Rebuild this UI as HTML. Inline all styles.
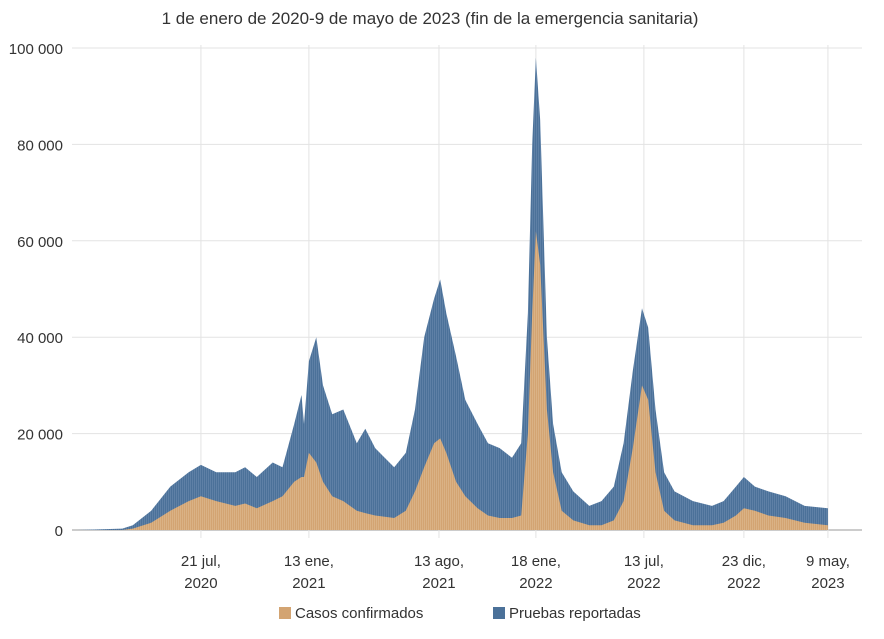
<!DOCTYPE html>
<html><head><meta charset="utf-8"><style>
body{margin:0;background:#fff;font-family:"Liberation Sans",sans-serif}
svg text{font-family:"Liberation Sans",sans-serif;fill:#333}
</style></head><body>
<svg id="c" width="884" height="634">
<defs>
<pattern id="sb" width="2" height="4" patternUnits="userSpaceOnUse"><rect width="2" height="4" fill="#4b7199"/><rect width="0.6" height="4" fill="#6a8bb0"/></pattern>
<pattern id="so" width="2" height="4" patternUnits="userSpaceOnUse"><rect width="2" height="4" fill="#d3a472"/><rect width="0.6" height="4" fill="#e0bb92"/></pattern>
</defs>
<text x="430" y="24" text-anchor="middle" font-size="17">1 de enero de 2020-9 de mayo de 2023 (fin de la emergencia sanitaria)</text>
<g id="grid"></g><g id="marks"></g><g id="axes"></g>
<g>
<rect x="279" y="607" width="12" height="12" fill="#d3a472"/>
<text x="295" y="618" font-size="15">Casos confirmados</text>
<rect x="493" y="607" width="12" height="12" fill="#4b7199"/>
<text x="509" y="618" font-size="15">Pruebas reportadas</text>
</g>
</svg>
<script>
const dates=["2020-01-01","2020-03-15","2020-04-01","2020-05-01","2020-06-01","2020-07-01","2020-07-21","2020-08-15","2020-09-15","2020-10-01","2020-10-20","2020-11-15","2020-12-01","2020-12-20","2021-01-01","2021-01-05","2021-01-13","2021-01-25","2021-02-05","2021-02-20","2021-03-10","2021-04-01","2021-04-15","2021-05-01","2021-06-01","2021-06-20","2021-07-05","2021-07-20","2021-08-05","2021-08-15","2021-08-25","2021-09-10","2021-09-25","2021-10-15","2021-11-01","2021-11-20","2021-12-10","2021-12-25","2022-01-05","2022-01-12","2022-01-18","2022-01-25","2022-02-05","2022-02-15","2022-03-01","2022-03-20","2022-04-15","2022-05-05","2022-05-25","2022-06-10","2022-06-25","2022-07-10","2022-07-20","2022-08-01","2022-08-15","2022-09-01","2022-10-01","2022-11-01","2022-11-20","2022-12-10","2022-12-23","2023-01-10","2023-02-01","2023-03-01","2023-04-01","2023-05-09"];
const pruebas=[0,300,1000,4000,9000,12000,13500,12000,12000,13000,11000,14000,13000,22000,28000,22000,35000,40000,30000,24000,25000,18000,21000,17000,13000,16000,25000,40000,48000,52000,45000,36000,27000,22000,18000,17000,15000,18000,45000,80000,98000,85000,40000,22000,12000,8000,5000,6000,9000,18000,33000,46000,42000,25000,12000,8000,6000,5000,6000,9000,11000,9000,8000,7000,5000,4500];
const casos=[0,0,300,1500,4000,6000,7000,6000,5000,5500,4500,6000,7000,10000,11000,11000,16000,14000,10000,7000,6000,4000,3500,3000,2500,4000,8000,13000,18000,19000,16000,10000,7000,4500,3000,2500,2500,3000,20000,45000,62000,55000,25000,12000,4000,2000,1000,1000,2000,6000,17000,30000,27000,12000,4000,2000,1000,1000,1500,3000,4500,4000,3000,2500,1500,1000];
const yTicks=[0,20000,40000,60000,80000,100000];
const yLabels=["0","20 000","40 000","60 000","80 000","100 000"];
const xTickDates=["2020-07-21","2021-01-13","2021-08-13","2022-01-18","2022-07-13","2022-12-23","2023-05-09"];
const xTickLabels=[["21 jul,","2020"],["13 ene,","2021"],["13 ago,","2021"],["18 ene,","2022"],["13 jul,","2022"],["23 dic,","2022"],["9 may,","2023"]];
const NS="http://www.w3.org/2000/svg";
const d0=Date.UTC(2020,0,1);
function day(s){const p=s.split("-");return (Date.UTC(+p[0],p[1]-1,+p[2])-d0)/864e5;}
function x(s){return 77+day(s)*0.6135;}
function y(v){return 530-v*0.00482;}
function mk(t,a,par){const e=document.createElementNS(NS,t);for(const k in a)e.setAttribute(k,a[k]);document.getElementById(par).appendChild(e);return e;}
yTicks.forEach((v,i)=>{
 const l=mk("line",{x1:72,x2:862,y1:y(v),y2:y(v),stroke:v===0?"#999":"#e3e3e3"},"grid");
 
 
 const t=mk("text",{x:63,y:y(v)+6,"text-anchor":"end","font-size":"15"},"axes");
 t.textContent=yLabels[i];
 
 
});
xTickDates.forEach((s,i)=>{
 const l=mk("line",{x1:x(s),x2:x(s),y1:45,y2:538,stroke:"#e3e3e3"},"grid");
 
 
 xTickLabels[i].forEach((tx,j)=>{
  const t=mk("text",{x:x(s),y:566+j*22,"text-anchor":"middle","font-size":"15"},"axes");
  t.textContent=tx;
  
  
 });
});
function area(vals){let p="M"+x(dates[0])+","+y(0);dates.forEach((d,i)=>{p+=" L"+x(d).toFixed(1)+","+y(vals[i]).toFixed(1);});p+=" L"+x(dates[dates.length-1])+","+y(0)+" Z";return p;}
const a1=mk("path",{d:area(pruebas),fill:"url(#sb)"},"marks");


const a2=mk("path",{d:area(casos),fill:"url(#so)"},"marks");


</script>
</body></html>
